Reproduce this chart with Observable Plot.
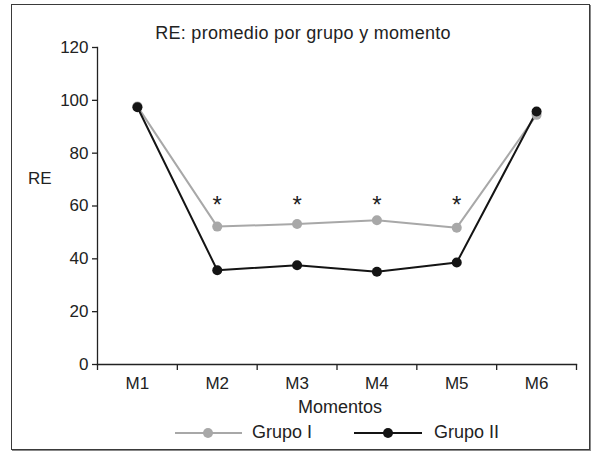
<!DOCTYPE html>
<html>
<head>
<meta charset="utf-8">
<script src="https://cdn.jsdelivr.net/npm/d3@7"></script>
<script src="https://cdn.jsdelivr.net/npm/@observablehq/plot@0.6"></script>
<style>
  html, body { margin: 0; padding: 0; background: #fff; }
  #wrap { position: relative; width: 594px; height: 452px; font-family: "Liberation Sans", Arial, sans-serif; color: #222; }
  #wrap svg.plot { position: absolute; left: 0; top: 0; }
  .frame { position: absolute; left: 11px; top: 4px; width: 579px; height: 446px; border: 1.5px solid #3a3a3a; box-shadow: 1px 1px 0 #888; box-sizing: border-box; }
  .txt { position: absolute; font-size: 17px; line-height: 1; white-space: nowrap; }
  .legend { position: absolute; top: 422px; left: 0; width: 594px; height: 20px; font-size: 18px; }
  .legend .item { position: absolute; top: 0; display: flex; align-items: center; }
  .legend svg { display: block; }
</style>
</head>
<body>
<div id="wrap">
  <div class="frame"></div>
  <div class="txt" id="title" style="left:0; width:606px; text-align:center; top:24px; font-size:18px; letter-spacing:0.3px;">RE: promedio por grupo y momento</div>
  <div class="txt" style="left:28px; top:170px;">RE</div>
  <div class="txt" style="left:0; width:680px; text-align:center; top:398px; font-size:18px;">Momentos</div>
  <div class="legend">
    <div class="item" style="left:175px;">
      <svg width="67" height="20"><line x1="0" x2="67" y1="10" y2="10" stroke="#a8a8a8" stroke-width="2"/><circle cx="33" cy="10" r="5" fill="#a8a8a8"/></svg>
      <span style="margin-left:10px;">Grupo I</span>
    </div>
    <div class="item" style="left:354px;">
      <svg width="68" height="20"><line x1="0" x2="68" y1="10" y2="10" stroke="#141414" stroke-width="2"/><circle cx="34" cy="10" r="5" fill="#141414"/></svg>
      <span style="margin-left:12px;">Grupo II</span>
    </div>
  </div>
</div>
<script>
const moments = ["M1", "M2", "M3", "M4", "M5", "M6"];
const grupoI = [97.7, 52.2, 53.2, 54.6, 51.8, 94.5];
const grupoII = [97.4, 35.7, 37.6, 35.1, 38.6, 95.8];
const significant = ["M2", "M3", "M4", "M5"];
const yTicks = [0, 20, 40, 60, 80, 100, 120];
const starLevel = 57.5;

const series = [
  {name: "Grupo I", values: grupoI, color: "#a8a8a8"},
  {name: "Grupo II", values: grupoII, color: "#141414"}
];
const rows = series.flatMap(s => moments.map((m, i) => ({moment: m, pos: i + 1, value: s.values[i], group: s.name})));
const stars = significant.map(m => ({pos: moments.indexOf(m) + 1, value: starLevel}));
const edges = d3.range(moments.length + 1).map(i => i + 0.5);

const chart = Plot.plot({
  width: 594,
  height: 452,
  marginLeft: 97,
  marginRight: 18,
  marginTop: 47,
  marginBottom: 88,
  x: {type: "linear", domain: [0.5, moments.length + 0.5]},
  y: {domain: [0, 120]},
  color: {domain: series.map(s => s.name), range: series.map(s => s.color)},
  style: {fontFamily: "'Liberation Sans', Arial, sans-serif", fontSize: "17px", color: "#222", background: "transparent", overflow: "visible"},
  marks: [
    Plot.frame({anchor: "left", stroke: "#222", strokeWidth: 1.3}),
    Plot.frame({anchor: "bottom", stroke: "#222", strokeWidth: 1.3}),
    Plot.axisY({ticks: yTicks, tickSize: 5, tickPadding: 4, label: null, stroke: "#222", strokeWidth: 1.3}),
    Plot.axisX({ticks: edges, tickSize: 6, tickFormat: () => "", label: null, stroke: "#222", strokeWidth: 1.3}),
    Plot.axisX({ticks: d3.range(1, moments.length + 1), tickSize: 0, tickPadding: 12, tickFormat: i => moments[i - 1], label: null}),
    Plot.line(rows, {x: "pos", y: "value", z: "group", stroke: "group", strokeWidth: 2}),
    Plot.dot(rows, {x: "pos", y: "value", fill: "group", r: 5}),
    Plot.text(stars, {x: "pos", y: "value", text: () => "*", fontSize: 24, lineAnchor: "bottom", fill: "#222"})
  ]
});
document.getElementById("wrap").appendChild(chart);
</script>
</body>
</html>
